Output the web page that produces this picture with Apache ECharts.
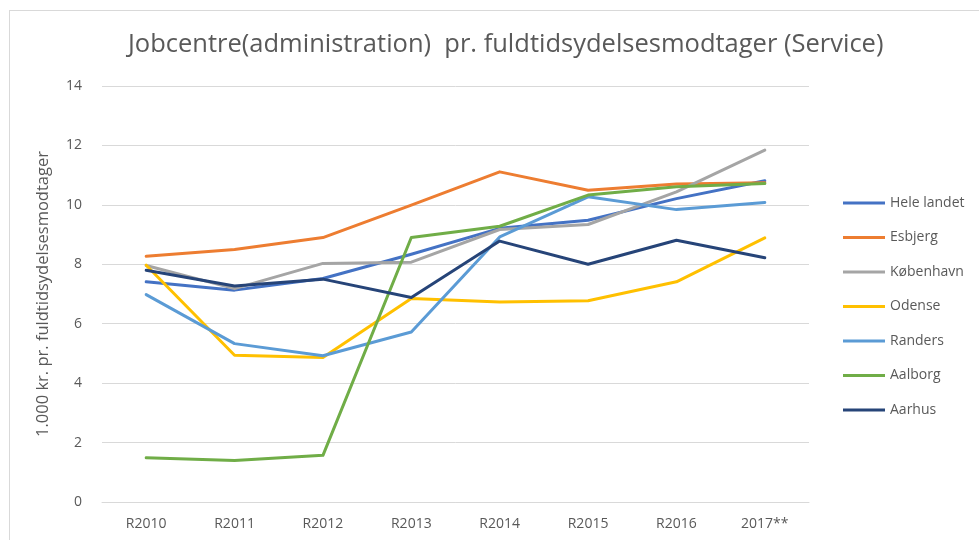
<!DOCTYPE html>
<html lang="da">
<head>
<meta charset="utf-8">
<title>Jobcentre pr. fuldtidsydelsesmodtager</title>
<script src="https://cdn.jsdelivr.net/npm/echarts@6/dist/echarts.min.js"></script>
<style>
  html, body { margin: 0; padding: 0; background: #fff; }
  #main { width: 979px; height: 540px; }
</style>
</head>
<body>
<div id="main"></div>
<script>
// years on the x axis
var years = ['R2010', 'R2011', 'R2012', 'R2013', 'R2014', 'R2015', 'R2016', '2017**'];

// values (1.000 kr.)
var heleLandet = [7.41, 7.13, 7.52, 8.34, 9.21, 9.48, 10.21, 10.81];
var esbjerg    = [8.27, 8.50, 8.90, 9.99, 11.11, 10.49, 10.70, 10.74];
var kobenhavn  = [7.96, 7.18, 8.03, 8.07, 9.17, 9.34, 10.44, 11.84];
var odense     = [7.97, 4.94, 4.86, 6.85, 6.73, 6.77, 7.41, 8.89];
var randers    = [6.98, 5.33, 4.92, 5.72, 8.92, 10.27, 9.84, 10.08];
var aalborg    = [1.49, 1.40, 1.57, 8.90, 9.28, 10.33, 10.61, 10.72];
var aarhus     = [7.80, 7.27, 7.50, 6.88, 8.78, 8.00, 8.81, 8.22];

var names  = ['Hele landet', 'Esbjerg', 'København', 'Odense', 'Randers', 'Aalborg', 'Aarhus'];
var values = [heleLandet, esbjerg, kobenhavn, odense, randers, aalborg, aarhus];
var colors = ['#4472C4', '#ED7D31', '#A5A5A5', '#FFC000', '#5B9BD5', '#70AD47', '#264478'];

var font = '"Open Sans", "Noto Sans", sans-serif';
var textGrey = '#595959';

var series = [];
for (var i = 0; i < names.length; i++) {
    series.push({
        name: names[i],
        type: 'line',
        data: values[i],
        symbol: 'none',
        smooth: false,
        lineStyle: { width: 3, color: colors[i], cap: 'round', join: 'round' },
        itemStyle: { color: colors[i] }
    });
}

var myChart = echarts.init(document.getElementById('main'));
myChart.setOption({
    backgroundColor: '#fff',
    animation: false,
    textStyle: { fontFamily: font },
    title: {
        text: 'Jobcentre(administration)  pr. fuldtidsydelsesmodtager (Service)',
        left: 123,
        top: 27,
        textStyle: { color: textGrey, fontSize: 25.5, fontWeight: 'normal', fontFamily: font }
    },
    legend: {
        orient: 'vertical',
        left: 838,
        top: 191,
        itemWidth: 42,
        itemHeight: 3,
        itemGap: 20.5,
        icon: 'rect',
        textStyle: { color: textGrey, fontSize: 14, fontFamily: font },
        data: names
    },
    grid: { left: 102, right: 170, top: 86, bottom: 38, containLabel: false },
    xAxis: {
        type: 'category',
        data: years,
        boundaryGap: true,
        axisLine: { show: true, lineStyle: { color: '#d9d9d9', width: 1 } },
        axisTick: { show: false },
        axisLabel: { color: textGrey, fontSize: 14, margin: 15 }
    },
    yAxis: {
        type: 'value',
        min: 0,
        max: 14,
        interval: 2,
        name: '1.000 kr. pr. fuldtidsydelsesmodtager',
        nameLocation: 'middle',
        nameGap: 50,
        nameRotate: 90,
        nameTextStyle: { color: textGrey, fontSize: 16.5 },
        axisLine: { show: false },
        axisTick: { show: false },
        axisLabel: { color: textGrey, fontSize: 14, margin: 20 },
        splitLine: { lineStyle: { color: '#d9d9d9', width: 1 } }
    },
    graphic: [
        { type: 'line', shape: { x1: 9.5, y1: 10, x2: 9.5, y2: 540 }, style: { stroke: '#d9d9d9', lineWidth: 1 } },
        { type: 'line', shape: { x1: 9, y1: 10.5, x2: 979, y2: 10.5 }, style: { stroke: '#d9d9d9', lineWidth: 1 } }
    ],
    series: series
});
</script>
</body>
</html>
